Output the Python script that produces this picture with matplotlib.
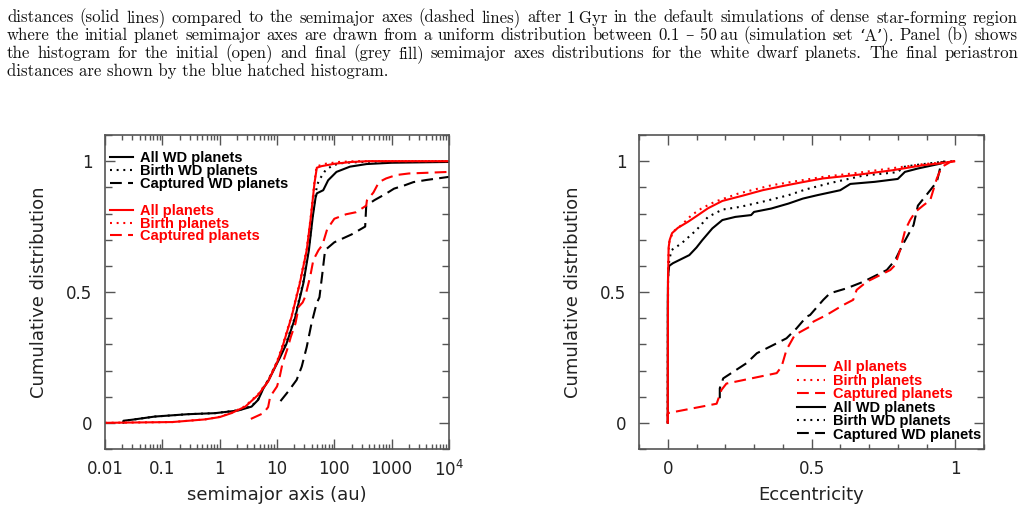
import matplotlib
matplotlib.use('Agg')
import matplotlib.pyplot as plt
from matplotlib.ticker import FixedLocator, NullFormatter, LogLocator, MultipleLocator

plt.rcParams['lines.scale_dashes'] = False
plt.rcParams['font.family'] = ['DejaVu Sans']

# ---------------- Panel (a): semimajor axis cumulative distributions ----------------
a_all = [0.01, 0.15, 0.55, 1.0, 1.6, 2.8, 4.7, 7.0, 10.0, 12.0, 18.0, 25.0, 33.0, 39.0, 45.0, 49.5, 60.0, 100.0, 200.0, 400.0, 1e4]
c_all = [0.0, 0.003, 0.013, 0.022, 0.037, 0.062, 0.107, 0.158, 0.23, 0.279, 0.406, 0.533, 0.66, 0.787, 0.915, 0.975, 0.981, 0.99, 0.997, 1.0, 1.0]

a_birth = [0.01, 0.15, 0.55, 1.0, 1.6, 2.8, 4.7, 7.0, 10.0, 12.0, 18.0, 25.0, 33.0, 39.0, 45.0, 49.0, 70.0, 120.0, 250.0, 1e4]
c_birth = [0.0, 0.003, 0.013, 0.023, 0.038, 0.064, 0.11, 0.162, 0.235, 0.284, 0.41, 0.538, 0.665, 0.792, 0.92, 0.98, 0.99, 0.997, 1.0, 1.0]

a_cap = [3.5, 5.8, 7.0, 7.6, 10.0, 11.0, 12.5, 15.0, 17.5, 21.0, 24.0, 28.0, 31.0, 38.0, 43.0, 53.0, 62.0, 75.0, 100.0, 160.0, 240.0, 360.0, 370.0, 480.0, 600.0, 800.0, 1200.0, 2000.0, 3500.0, 1e4]
c_cap = [0.015, 0.037, 0.06, 0.10, 0.139, 0.17, 0.228, 0.279, 0.33, 0.38, 0.444, 0.46, 0.482, 0.56, 0.622, 0.66, 0.68, 0.74, 0.78, 0.797, 0.805, 0.83, 0.85, 0.88, 0.92, 0.934, 0.947, 0.953, 0.955, 0.959]

a_wd = [0.021, 0.021, 0.03, 0.074, 0.28, 0.83, 2.1, 3.6, 4.7, 5.8, 7.1, 11.3, 14.5, 20.6, 28.8, 36.0, 42.0, 47.0, 49.5, 64.0, 78.0, 109.0, 187.0, 366.0, 1000.0, 1e4]
c_wd = [0.0, 0.008, 0.012, 0.024, 0.033, 0.037, 0.047, 0.062, 0.088, 0.132, 0.162, 0.25, 0.30, 0.40, 0.533, 0.66, 0.787, 0.86, 0.877, 0.889, 0.927, 0.959, 0.979, 0.989, 0.994, 0.997]

a_wd_birth = [0.021, 0.021, 0.03, 0.074, 0.28, 0.83, 2.1, 3.6, 4.7, 5.8, 7.1, 11.3, 14.5, 20.6, 28.8, 36.0, 42.0, 47.0, 50.0, 57.0, 70.0, 95.0, 150.0, 400.0, 1e4]
c_wd_birth = [0.0, 0.008, 0.012, 0.024, 0.033, 0.037, 0.048, 0.064, 0.09, 0.135, 0.165, 0.255, 0.305, 0.405, 0.54, 0.67, 0.795, 0.87, 0.91, 0.935, 0.965, 0.985, 0.994, 0.998, 1.0]

a_wd_cap = [11.5, 15.7, 22.0, 27.0, 33.0, 40.0, 49.0, 55.0, 61.0, 69.0, 100.0, 200.0, 345.0, 360.0, 500.0, 800.0, 1100.0, 1700.0, 2400.0, 4000.0, 1e4]
c_wd_cap = [0.083, 0.12, 0.164, 0.215, 0.29, 0.38, 0.456, 0.48, 0.56, 0.66, 0.69, 0.72, 0.75, 0.83, 0.851, 0.876, 0.895, 0.908, 0.92, 0.928, 0.94]

# ---------------- Panel (b): eccentricity cumulative distributions ----------------
e_all = [0.0, 0.001, 0.003, 0.007, 0.015, 0.035, 0.07, 0.10, 0.14, 0.19, 0.26, 0.33, 0.40, 0.47, 0.54, 0.66, 0.78, 0.89, 0.95, 0.995]
ce_all = [0.0, 0.55, 0.67, 0.70, 0.725, 0.745, 0.768, 0.79, 0.82, 0.848, 0.868, 0.889, 0.905, 0.92, 0.934, 0.948, 0.965, 0.985, 0.992, 1.0]

e_birth = [0.0, 0.001, 0.005, 0.018, 0.048, 0.083, 0.117, 0.164, 0.245, 0.361, 0.466, 0.541, 0.657, 0.774, 0.89, 0.98, 1.0]
ce_birth = [0.0, 0.6, 0.69, 0.73, 0.756, 0.794, 0.819, 0.845, 0.876, 0.908, 0.927, 0.94, 0.955, 0.972, 0.989, 0.997, 1.0]

e_cap = [0.0, 0.0, 0.17, 0.187, 0.204, 0.379, 0.396, 0.413, 0.442, 0.495, 0.507, 0.552, 0.61, 0.645, 0.657, 0.692, 0.774, 0.791, 0.808, 0.826, 0.843, 0.861, 0.89, 0.913, 0.936, 0.953, 0.983, 1.0]
ce_cap = [0.0, 0.037, 0.073, 0.126, 0.15, 0.19, 0.215, 0.279, 0.336, 0.368, 0.387, 0.412, 0.45, 0.47, 0.508, 0.539, 0.584, 0.603, 0.66, 0.737, 0.775, 0.806, 0.832, 0.851, 0.934, 0.978, 0.997, 1.0]

e_wd = [0.0, 0.0, 0.001, 0.005, 0.018, 0.04, 0.075, 0.10, 0.12, 0.155, 0.19, 0.235, 0.29, 0.30, 0.36, 0.42, 0.47, 0.52, 0.60, 0.635, 0.72, 0.80, 0.825, 0.87, 0.95, 0.96]
ce_wd = [0.0, 0.45, 0.56, 0.60, 0.61, 0.622, 0.641, 0.67, 0.698, 0.743, 0.775, 0.787, 0.794, 0.806, 0.819, 0.838, 0.857, 0.87, 0.889, 0.913, 0.921, 0.932, 0.959, 0.972, 0.991, 0.998]

e_wd_birth = [0.0, 0.001, 0.005, 0.013, 0.048, 0.1, 0.14, 0.19, 0.25, 0.33, 0.42, 0.48, 0.56, 0.68, 0.80, 0.82, 0.86, 0.95, 1.0]
ce_wd_birth = [0.0, 0.55, 0.62, 0.66, 0.686, 0.737, 0.787, 0.815, 0.825, 0.845, 0.87, 0.892, 0.915, 0.945, 0.958, 0.978, 0.985, 0.997, 1.0]

e_wd_cap = [0.181, 0.181, 0.193, 0.274, 0.31, 0.379, 0.413, 0.448, 0.483, 0.495, 0.541, 0.564, 0.622, 0.68, 0.762, 0.791, 0.808, 0.82, 0.855, 0.87, 0.913, 0.936, 0.953]
ce_wd_cap = [0.094, 0.132, 0.17, 0.228, 0.266, 0.304, 0.323, 0.361, 0.406, 0.412, 0.47, 0.495, 0.514, 0.539, 0.584, 0.622, 0.66, 0.686, 0.756, 0.83, 0.889, 0.921, 1.0]

# ---------------- Text ----------------
labels_red = ['All planets', 'Birth planets', 'Captured planets']
labels_black = ['All WD planets', 'Birth WD planets', 'Captured WD planets']
ylabel = 'Cumulative distribution'
xlabel_a = 'semimajor axis (au)'
xlabel_b = 'Eccentricity'
xticks_a = [0.01, 0.1, 1, 10, 100, 1000, 1e4]
xticklabels_a = ['0.01', '0.1', '1', '10', '100', '1000', '10$^4$']
xticks_b = [0, 0.5, 1]
xticklabels_b = ['0', '0.5', '1']
yticks = [0, 0.5, 1]
yticklabels = ['0', '0.5', '1']

caption_lines = [
    "distances (solid lines) compared to the semimajor axes (dashed lines) after 1\u2009Gyr in the default simulations of dense star-forming region",
    "where the initial planet semimajor axes are drawn from a uniform distribution between 0.1 \u2013 50\u2009au (simulation set \u2018A\u2019). Panel (b) shows",
    "the histogram for the initial (open) and final (grey fill) semimajor axes distributions for the white dwarf planets. The final periastron",
    "distances are shown by the blue hatched histogram.",
]

# ---------------- Figure ----------------
W, H = 1025, 516
fig = plt.figure(figsize=(W / 100, H / 100), dpi=100)
fig.patch.set_facecolor('white')

axA = fig.add_axes([105 / W, 1 - 449 / H, 344 / W, 314 / H])
axB = fig.add_axes([639 / W, 1 - 449 / H, 345 / W, 314 / H])

LW = 1.5
solid = '-'
dashed = (0, (8.5, 4.5))
dotted = (0, (1.4, 3.4))
RED = '#ff0000'
BLK = '#000000'

# Panel (a)
hbA = []
hbA.append(axA.plot(a_wd, c_wd, color=BLK, lw=LW, ls=solid)[0])
hbA.append(axA.plot(a_wd_birth, c_wd_birth, color=BLK, lw=LW, ls=dotted)[0])
hbA.append(axA.plot(a_wd_cap, c_wd_cap, color=BLK, lw=LW, ls=dashed)[0])
hrA = []
hrA.append(axA.plot(a_all, c_all, color=RED, lw=LW, ls=solid)[0])
hrA.append(axA.plot(a_birth, c_birth, color=RED, lw=LW, ls=dotted)[0])
hrA.append(axA.plot(a_cap, c_cap, color=RED, lw=LW, ls=dashed)[0])

axA.set_xscale('log')
axA.set_xlim(0.01, 1e4)
axA.xaxis.set_major_locator(FixedLocator(xticks_a))
axA.set_xticklabels(xticklabels_a)
axA.xaxis.set_minor_locator(LogLocator(base=10, subs=range(2, 10), numticks=20))
axA.xaxis.set_minor_formatter(NullFormatter())

# Panel (b)
hbB = []
hbB.append(axB.plot(e_wd, ce_wd, color=BLK, lw=LW, ls=solid)[0])
hbB.append(axB.plot(e_wd_birth, ce_wd_birth, color=BLK, lw=LW, ls=dotted)[0])
hbB.append(axB.plot(e_wd_cap, ce_wd_cap, color=BLK, lw=LW, ls=dashed)[0])
hrB = []
hrB.append(axB.plot(e_all, ce_all, color=RED, lw=LW, ls=solid)[0])
hrB.append(axB.plot(e_birth, ce_birth, color=RED, lw=LW, ls=dotted)[0])
hrB.append(axB.plot(e_cap, ce_cap, color=RED, lw=LW, ls=dashed)[0])

axB.set_xlim(-0.1, 1.1)
axB.xaxis.set_major_locator(FixedLocator(xticks_b))
axB.set_xticklabels(xticklabels_b)
axB.xaxis.set_minor_locator(MultipleLocator(0.1))

SPINE = '#555555'
for ax in (axA, axB):
    ax.set_ylim(-0.1, 1.1)
    ax.yaxis.set_major_locator(FixedLocator(yticks))
    ax.set_yticklabels(yticklabels)
    ax.yaxis.set_minor_locator(MultipleLocator(0.1))
    for s in ax.spines.values():
        s.set_color(SPINE)
        s.set_linewidth(1.2)
    ax.tick_params(which='both', direction='in', top=True, right=True,
                   color=SPINE, width=1.0, labelsize=12, labelcolor='#222222')
    ax.xaxis.set_tick_params(which='major', length=7, pad=8)
    ax.xaxis.set_tick_params(which='minor', length=3.5)
    ax.yaxis.set_tick_params(which='major', length=7, pad=9)
    ax.yaxis.set_tick_params(which='minor', length=5)
    ax.set_ylabel(ylabel, fontsize=13, color='#222222')
    ax.yaxis.set_label_coords(-0.165, 0.5)

axA.set_xlabel(xlabel_a, fontsize=13, color='#222222')
axB.set_xlabel(xlabel_b, fontsize=13, color='#222222')
axA.xaxis.set_label_coords(0.5, -0.118)
axB.xaxis.set_label_coords(0.5, -0.118)

leg_font = {'family': 'Liberation Sans', 'weight': 'bold', 'size': 10.5}
leg_kw = dict(frameon=False, prop=leg_font, labelcolor='linecolor', borderpad=0,
              borderaxespad=0, loc='upper left')
legA1 = axA.legend(hbA, labels_black, bbox_to_anchor=(0.0145, 0.948),
                   handlelength=1.6, handletextpad=0.48, labelspacing=-0.08, **leg_kw)
axA.add_artist(legA1)
legA2 = axA.legend(hrA, labels_red, bbox_to_anchor=(0.0145, 0.779),
                   handlelength=1.6, handletextpad=0.48, labelspacing=-0.1, **leg_kw)
legB = axB.legend(hrB + hbB, labels_red + labels_black, bbox_to_anchor=(0.458, 0.282),
                  handlelength=1.95, handletextpad=0.55, labelspacing=-0.04, **leg_kw)

# ---------------- Caption (justified) ----------------
renderer = fig.canvas.get_renderer()
cap_family = ['cmr10', 'DejaVu Serif']
x_left, x_right = 7.0, 1018.0
last_right = 389.0
baselines = [22.5, 40.2, 57.9, 75.6]

probe = fig.text(0, 0, caption_lines[-1], fontsize=10, family=cap_family)
w10 = probe.get_window_extent(renderer).width
probe.remove()
cap_fs = 10.0 * (last_right - x_left) / w10

def word_width(w):
    t = fig.text(0, 0, w, fontsize=cap_fs, family=cap_family)
    wd = t.get_window_extent(renderer).width
    t.remove()
    return wd

for i, line in enumerate(caption_lines):
    yb = 1 - baselines[i] / H
    if i == len(caption_lines) - 1:
        fig.text(x_left / W, yb, line, fontsize=cap_fs, family=cap_family,
                 va='baseline', ha='left', color='#111111')
        continue
    words = line.split(' ')
    widths = [word_width(w) for w in words]
    gap = (x_right - x_left - sum(widths)) / (len(words) - 1)
    x = x_left
    for w, wd in zip(words, widths):
        fig.text(x / W, yb, w, fontsize=cap_fs, family=cap_family,
                 va='baseline', ha='left', color='#111111')
        x += wd + gap

fig.savefig('out.png', dpi=100, facecolor='white')
